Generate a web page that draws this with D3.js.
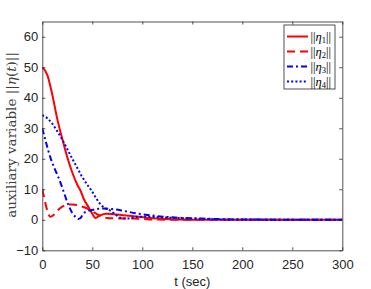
<!DOCTYPE html>
<html>
<head>
<meta charset="utf-8">
<script src="https://cdn.jsdelivr.net/npm/d3@7"></script>
<style>
  body { margin: 0; background: #fff; }
  svg { display: block; }
</style>
</head>
<body>
<svg></svg>
<script>
// values (t in sec, value of ||eta_i||)
const t1 = [0, 5, 10, 15, 20, 25, 30, 35, 38, 42, 46, 50, 53, 58, 64, 72, 81, 94, 105, 115, 130, 150, 300];
const eta1 = [50, 47.5, 41, 33, 26.5, 20.5, 15.5, 11.5, 9.7, 6.5, 4.3, 2, 0.6, 1.5, 2, 1.8, 1.5, 1.1, 0.7, 0.4, 0.15, 0, 0];

const t2 = [0, 2, 5, 8, 11, 15, 20, 25, 30, 35, 40, 45, 50, 55, 60, 65, 70, 80, 90, 100, 110, 130, 300];
const eta2 = [10, 7, 3, 1, 1.5, 3, 4.3, 5, 5, 4.8, 4.3, 3.7, 2.8, 1.8, 1, 0.6, 0.5, 0.4, 0.4, 0.3, 0.1, 0, 0];

const t3 = [0, 4, 8, 12, 16, 20, 25, 30, 33, 36, 38, 41, 46, 51, 56, 61, 70, 80, 94, 105, 115, 130, 160, 180, 200, 300];
const eta3 = [30, 25, 20.5, 17, 14, 10.5, 5.8, 2.2, 1, 0.3, 0.5, 2, 2.9, 3.3, 3.6, 3.7, 3.5, 3, 2.1, 1.6, 1.2, 0.8, 0.4, 0.2, 0.1, 0];

const t4 = [0, 5, 10, 15, 20, 25, 30, 35, 40, 45, 49, 54, 59, 64, 68, 74, 79, 84, 90, 96, 105, 120, 140, 160, 180, 300];
const eta4 = [34.3, 33.3, 31.5, 29, 26.3, 23.2, 20, 17, 14, 11.5, 9.7, 7, 4.8, 3.6, 3, 1.5, 0.6, 0.4, 0.7, 1, 1, 0.8, 0.5, 0.3, 0.1, 0];

const xTicks = [0, 50, 100, 150, 200, 250, 300];
const yTicks = [-10, 0, 10, 20, 30, 40, 50, 60];
const legendNames = ['1', '2', '3', '4'];

const series = [
  { t: t1, v: eta1, color: '#ff0000', dash: null },
  { t: t2, v: eta2, color: '#ff0000', dash: '8,5' },
  { t: t3, v: eta3, color: '#0000ff', dash: '6,3,2,3' },
  { t: t4, v: eta4, color: '#0000ff', dash: '2,2.2' }
];

const W = 371, H = 289;
const mLeft = 42.3, mRight = 342.3, mTop = 21.5, mBottom = 250.3;

const svg = d3.select('svg').attr('width', W).attr('height', H);

const xs = d3.scaleLinear().domain([0, 300]).range([mLeft, mRight]);
const ys = d3.scaleLinear().domain([-10, 65]).range([mBottom, mTop]);

svg.append('defs').append('clipPath').attr('id', 'clip')
  .append('rect')
  .attr('x', mLeft).attr('y', mTop)
  .attr('width', mRight - mLeft).attr('height', mBottom - mTop);

// lines
const line = d3.line().x(d => xs(d[0])).y(d => ys(d[1])).curve(d3.curveMonotoneX);
const plot = svg.append('g').attr('clip-path', 'url(#clip)');
series.forEach(s => {
  plot.append('path')
    .datum(s.t.map((t, i) => [t, s.v[i]]))
    .attr('fill', 'none')
    .attr('stroke', s.color)
    .attr('stroke-width', 2)
    .attr('stroke-dasharray', s.dash)
    .attr('d', line);
});

// axes (matlab style, ticks inward on all sides)
const axColor = '#262626';
const tickLen = 3;
const bottomAxis = svg.append('g')
  .attr('transform', `translate(0,${mBottom})`)
  .call(d3.axisBottom(xs).tickValues(xTicks).tickSizeInner(-tickLen).tickSizeOuter(0).tickPadding(9));
const topAxis = svg.append('g')
  .attr('transform', `translate(0,${mTop})`)
  .call(d3.axisTop(xs).tickValues(xTicks).tickSizeInner(-tickLen).tickSizeOuter(0).tickFormat(''));
const leftAxis = svg.append('g')
  .attr('transform', `translate(${mLeft},0)`)
  .call(d3.axisLeft(ys).tickValues(yTicks).tickSizeInner(-tickLen).tickSizeOuter(0).tickPadding(4));
const rightAxis = svg.append('g')
  .attr('transform', `translate(${mRight},0)`)
  .call(d3.axisRight(ys).tickValues(yTicks).tickSizeInner(-tickLen).tickSizeOuter(0).tickFormat(''));

[bottomAxis, topAxis, leftAxis, rightAxis].forEach(a => {
  a.select('.domain').attr('stroke', axColor).attr('stroke-width', 0.8);
  a.selectAll('line').attr('stroke', axColor).attr('stroke-width', 0.8);
  a.selectAll('text')
    .attr('fill', axColor)
    .style('font-family', '"Liberation Sans", Arial, sans-serif')
    .style('font-size', '13px');
});

// axis labels
svg.append('text')
  .attr('x', (mLeft + mRight) / 2)
  .attr('y', 286)
  .attr('text-anchor', 'middle')
  .attr('fill', axColor)
  .style('font-family', '"Liberation Sans", Arial, sans-serif')
  .style('font-size', '13px')
  .text('t (sec)');

const ylab = svg.append('text')
  .attr('transform', `translate(15.5,${(mTop + mBottom) / 2 - 1}) rotate(-90)`)
  .attr('text-anchor', 'middle')
  .attr('fill', '#404040')
  .style('font-family', '"DejaVu Serif", "Liberation Serif", serif')
  .style('font-size', '13.5px');
ylab.append('tspan').text('auxiliary variable ||');
ylab.append('tspan').style('font-style', 'italic').text('\u03b7');
ylab.append('tspan').text('(');
ylab.append('tspan').style('font-style', 'italic').text('t');
ylab.append('tspan').text(')||');

// legend
const lx = 284, ly = 25, lw = 51, lh = 64;
const legend = svg.append('g');
legend.append('rect')
  .attr('x', lx).attr('y', ly).attr('width', lw).attr('height', lh)
  .attr('fill', '#fff').attr('stroke', axColor).attr('stroke-width', 0.8);

const item = legend.selectAll('.item').data(series).enter()
  .append('g').attr('class', 'item')
  .attr('transform', (d, i) => `translate(${lx},${ly + 11.5 + i * 15})`);

item.append('line')
  .attr('x1', 3).attr('x2', 24).attr('y1', 0).attr('y2', 0)
  .attr('stroke', d => d.color)
  .attr('stroke-width', 2)
  .attr('stroke-dasharray', d => d.dash);

const lt = item.append('text')
  .attr('x', 26.5).attr('y', 4.5)
  .attr('fill', '#000')
  .style('font-family', '"Liberation Serif", "DejaVu Serif", serif')
  .style('font-size', '12.5px');
lt.append('tspan').text('||');
lt.append('tspan').style('font-style', 'italic').text('\u03b7');
lt.append('tspan').attr('dy', 2).style('font-size', '8.5px').text((d, i) => legendNames[i]);
lt.append('tspan').attr('dy', -2).text('||');
</script>
</body>
</html>
